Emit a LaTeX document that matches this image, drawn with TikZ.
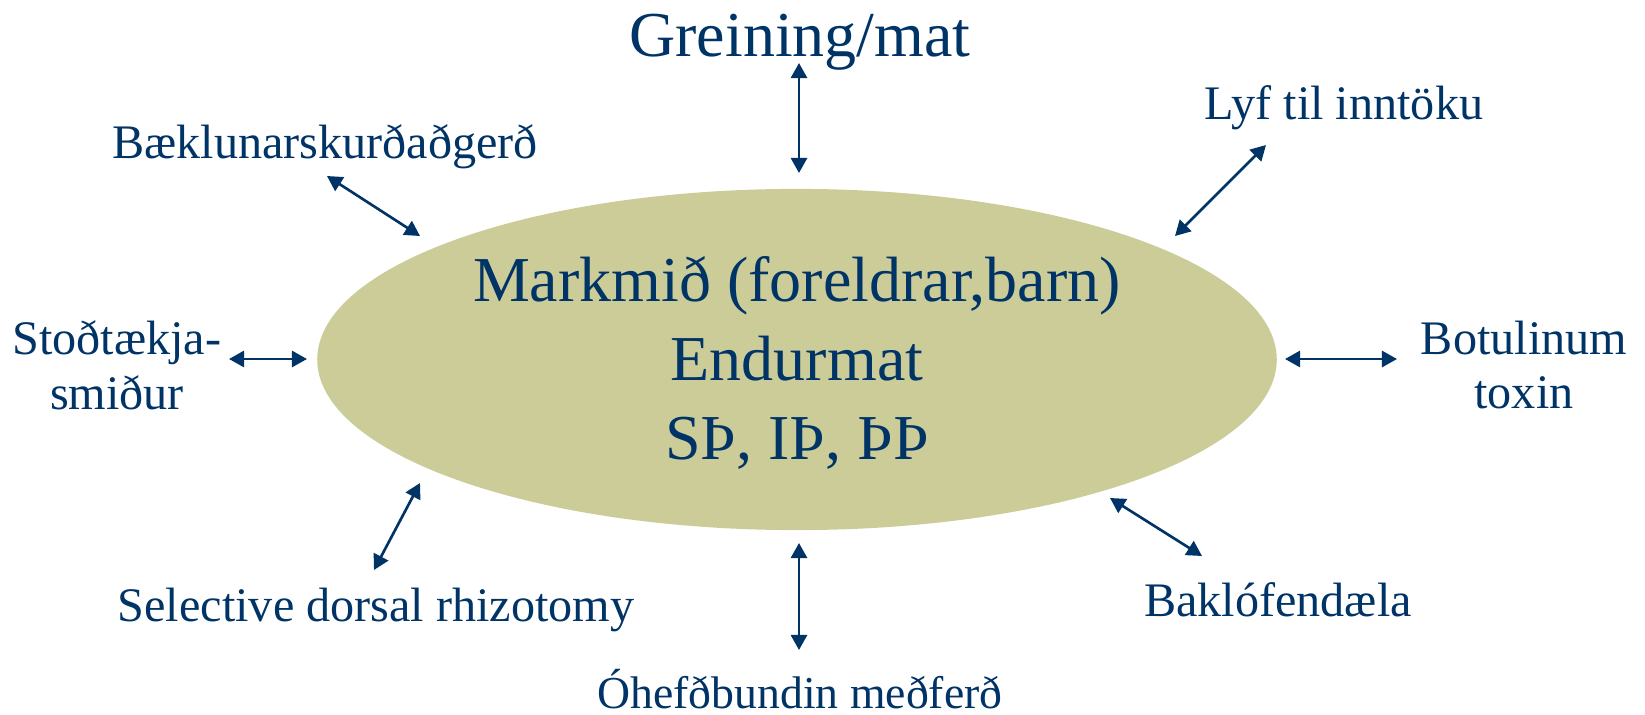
\documentclass[tikz,border=0pt]{standalone}
\usepackage{fontspec}
\setmainfont{Liberation Serif}
\usetikzlibrary{arrows.meta,shapes.geometric}
\definecolor{navy}{HTML}{003366}
\definecolor{olivefill}{HTML}{CCCC99}
\tikzset{
    goal/.style={ellipse,fill=olivefill,inner sep=0pt,
        minimum width=9.59cm,minimum height=3.41cm},
    big text/.style={text=navy,align=center,
        font=\fontsize{18.2}{22.5}\selectfont},
    label text/.style={text=navy,align=center,
        font=\fontsize{13.7}{15.6}\selectfont},
    >={Triangle[length=4.3pt,width=4.6pt]},
    link/.style={draw=navy,line width=0.75pt,<->},
}
\begin{document}
\begin{tikzpicture}[x=0.01cm,y=-0.01cm]
	\useasboundingbox (0,0) rectangle (1645,715);
	\node[goal] (mark) at (797,359.5) {};
	\node[big text] (marktext) at (797,363) {Markmið (foreldrar,barn)\\Endurmat\\SÞ, IÞ, ÞÞ};
	\node[big text] (greining) at (800,42) {Greining/mat};
	\node[label text] (baek) at (325,147) {Bæklunarskurðaðgerð};
	\node[label text] (lyf) at (1344,108) {Lyf til inntöku};
	\node[label text] (stod) at (117,365) {Stoðtækja-\\smiður};
	\node[label text] (botu) at (1524,365) {Botulinum\\toxin};
	\node[label text] (selec) at (376,610) {Selective dorsal rhizotomy};
	\node[label text] (baklo) at (1278,600) {Baklófendæla};
	\node[label text,font=\fontsize{13}{15}\selectfont] (ohef) at (800,689) {Óhefðbundin meðferð};
	% arrow ends
	\coordinate (greining-a) at (799,63);  \coordinate (greining-b) at (799,173);
	\coordinate (baek-a) at (327,176);     \coordinate (baek-b) at (420,236);
	\coordinate (lyf-a) at (1266,145);     \coordinate (lyf-b) at (1175,236);
	\coordinate (stod-a) at (229,359);     \coordinate (stod-b) at (307,359);
	\coordinate (botu-a) at (1397,359);    \coordinate (botu-b) at (1285,359);
	\coordinate (selec-a) at (374,570);    \coordinate (selec-b) at (420,483);
	\coordinate (baklo-a) at (1202,556);   \coordinate (baklo-b) at (1110,498);
	\coordinate (ohef-a) at (799,650);     \coordinate (ohef-b) at (799,543);
	\foreach \n in {greining,baek,lyf,stod,botu,selec,baklo,ohef}
		\draw[link] (\n-a) -- (\n-b);
\end{tikzpicture}
\end{document}
